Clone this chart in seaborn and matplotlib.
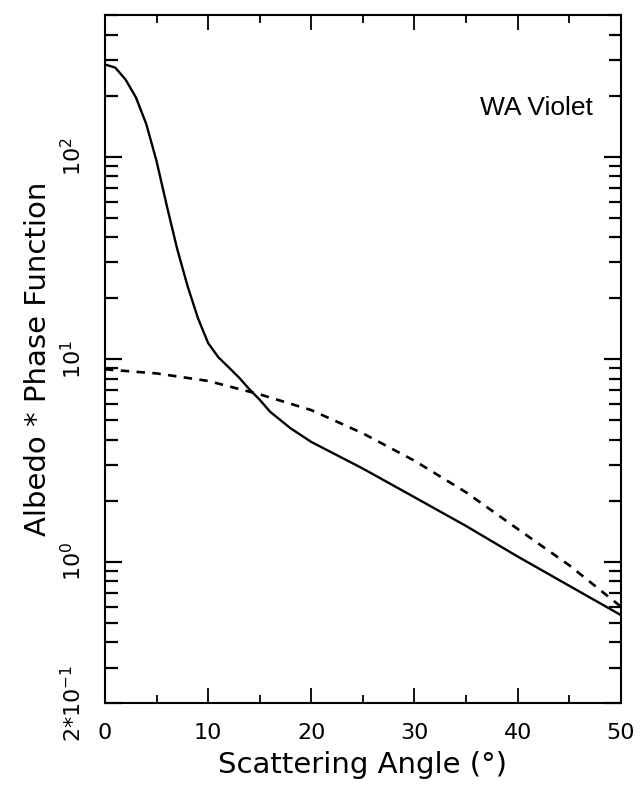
import numpy as np
import pandas as pd
import matplotlib
matplotlib.use("Agg")
import matplotlib.pyplot as plt
import matplotlib.ticker as mticker
import seaborn as sns

# ---- data ----
solid_angle = [0, 1, 2, 3, 4, 5, 6, 7, 8, 9, 10, 11, 12, 13, 14, 15, 16, 18, 20, 25, 30, 35, 40, 45, 50]
solid_value = [285, 275, 240, 196, 145, 95, 57, 35, 23, 16, 12, 10.2, 9.1, 8.1, 7.1, 6.3, 5.5, 4.55, 3.9,
               2.88, 2.08, 1.5, 1.06, 0.76, 0.545]
dashed_angle = [0, 5, 10, 15, 20, 25, 30, 35, 40, 45, 50]
dashed_value = [8.9, 8.5, 7.8, 6.7, 5.6, 4.3, 3.15, 2.2, 1.45, 0.96, 0.6]

x_ticks = [0, 10, 20, 30, 40, 50]
y_major = [0.2, 1, 10, 100]
y_labels = [r"$2{*}10^{-1}$", r"$10^{0}$", r"$10^{1}$", r"$10^{2}$"]
title_text = "WA Violet"

sns.set_style("ticks")
plt.rcParams["font.family"] = ["DejaVu Sans"]
plt.rcParams["text.color"] = "black"
plt.rcParams["axes.labelcolor"] = "black"
plt.rcParams["xtick.color"] = "black"
plt.rcParams["ytick.color"] = "black"
plt.rcParams["axes.edgecolor"] = "black"

df_s = pd.DataFrame({"angle": solid_angle, "value": solid_value})
df_d = pd.DataFrame({"angle": dashed_angle, "value": dashed_value})

fig = plt.figure(figsize=(6.4, 7.91), dpi=100)
ax = fig.add_axes([0.164, 0.111, 0.806, 0.870])

sns.lineplot(data=df_s, x="angle", y="value", ax=ax, color="black", lw=1.7)
sns.lineplot(data=df_d, x="angle", y="value", ax=ax, color="black", lw=1.9,
             linestyle=(0, (3.2, 2.8)))

ax.set_yscale("log")
ax.set_xlim(0, 50)
ax.set_ylim(0.2, 500)

ax.xaxis.set_major_locator(mticker.FixedLocator(x_ticks))
ax.xaxis.set_minor_locator(mticker.MultipleLocator(5))
ax.set_xticklabels([str(t) for t in x_ticks])

ax.yaxis.set_major_locator(mticker.FixedLocator(y_major))
ax.yaxis.set_major_formatter(mticker.FixedFormatter(y_labels))
ax.yaxis.set_minor_locator(mticker.LogLocator(base=10, subs=np.arange(2, 10), numticks=20))
ax.yaxis.set_minor_formatter(mticker.NullFormatter())

for sp in ax.spines.values():
    sp.set_visible(True)
    sp.set_linewidth(1.5)
    sp.set_color("black")

ax.tick_params(axis="both", which="both", direction="in", top=True, right=True, color="black",
               labelcolor="black")
ax.tick_params(axis="y", which="major", length=12, width=1.6, labelsize=16, pad=14)
ax.tick_params(axis="y", which="minor", length=9, width=1.6)
ax.tick_params(axis="x", which="major", length=11, width=1.3, labelsize=16, pad=14)
ax.tick_params(axis="x", which="minor", length=6, width=1.3)
for lab in ax.get_yticklabels():
    lab.set_rotation(90)
    lab.set_va("center")

ax.set_xlabel("Scattering Angle (°)", fontsize=21, labelpad=6)
ax.set_ylabel("Albedo * Phase Function", fontsize=21, labelpad=6)

ax.text(0.727, 0.865, title_text, transform=ax.transAxes, ha="left", va="center",
        fontsize=19, family=["Liberation Sans", "DejaVu Sans"])

fig.savefig("out.png", dpi=100, facecolor="white")
